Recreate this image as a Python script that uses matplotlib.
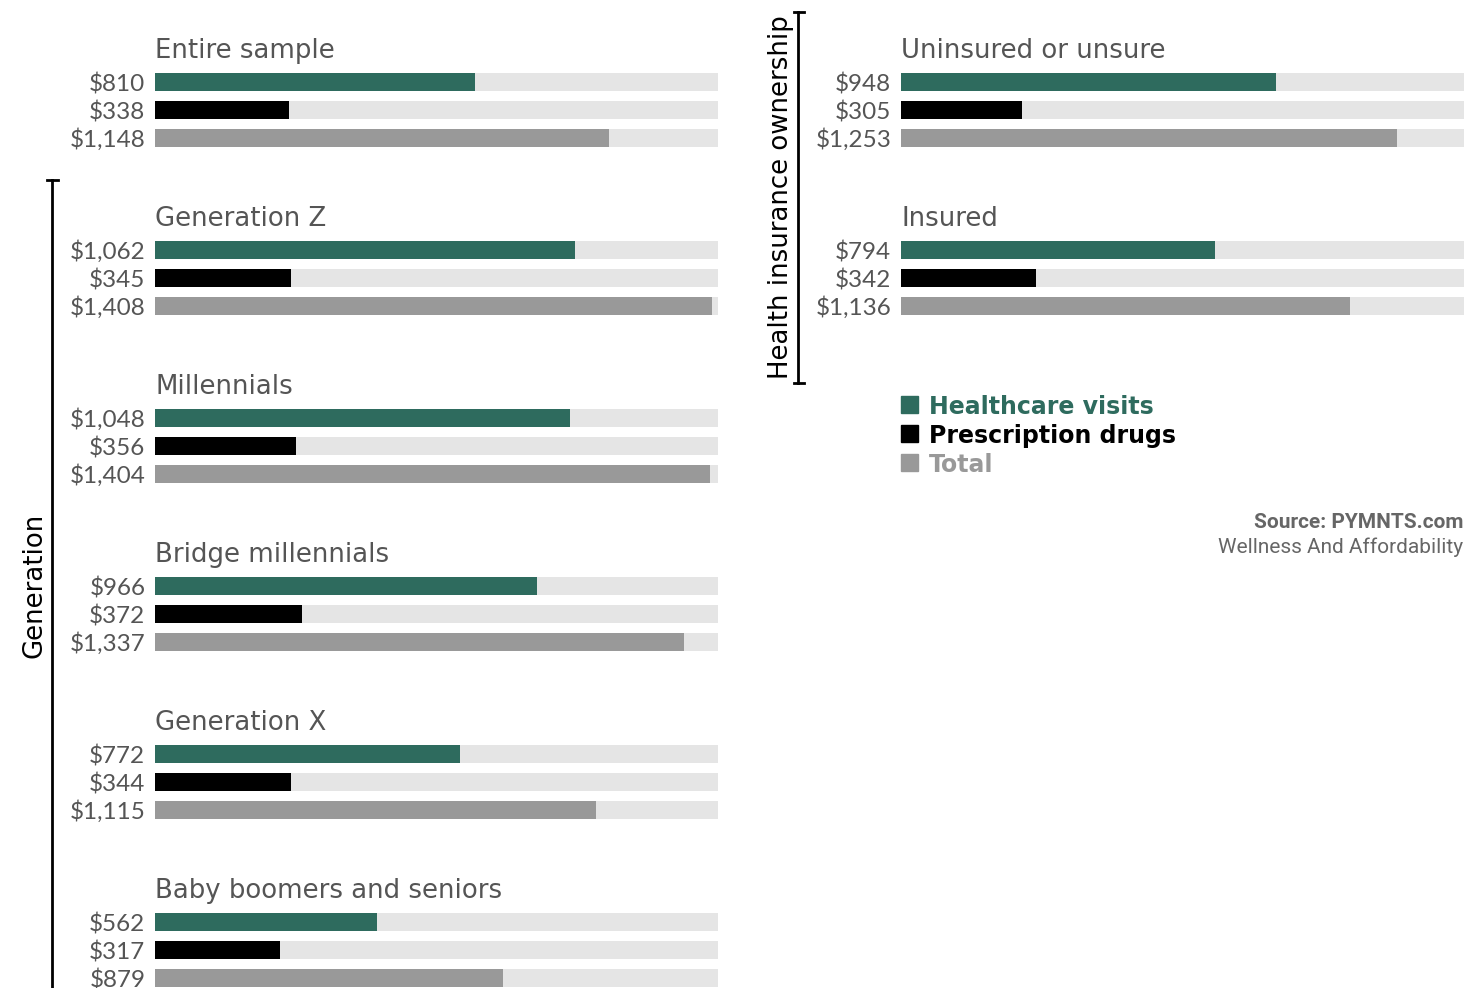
import matplotlib
matplotlib.use("Agg")
import matplotlib.pyplot as plt
from matplotlib.patches import Rectangle

# ------------------------
# Data
# ------------------------

gen_groups = ["Entire sample", "Generation Z", "Millennials", "Bridge millennials",
              "Generation X", "Baby boomers and seniors"]
gen_visits = [810, 1062, 1048, 966, 772, 562]
gen_drugs = [338, 345, 356, 372, 344, 317]
gen_total = [1148, 1408, 1404, 1337, 1115, 879]

ins_groups = ["Uninsured or unsure", "Insured"]
ins_visits = [948, 794]
ins_drugs = [305, 342]
ins_total = [1253, 1136]

series_names = ["Healthcare visits", "Prescription drugs", "Total"]

# ------------------------
# Style
# ------------------------

GREEN = "#2e6b5e"
BLACK = "#000000"
GRAY = "#999999"
TRACK = "#e5e5e5"
TEXT = "#555555"
colors = [GREEN, BLACK, GRAY]

W, H = 1483, 988
XMAX = 1423          # scale of the background track
GROUP_STEP = 168     # px between groups
ROW_STEP = 28        # px between bars
FIRST_TITLE = 51
FIRST_BAR = 82
BAR_H = 18

WIDE = ["DejaVu Sans"]
plt.rcParams["font.family"] = ["Lato", "DejaVu Sans"]

fig = plt.figure(figsize=(W / 100, H / 100), dpi=100)


def draw_panel(left_px, groups, visits, drugs, total):
    ax = fig.add_axes([left_px / W, 0, 563 / W, 1])
    ax.set_xlim(0, XMAX)
    ax.set_ylim(H, 0)
    ax.axis("off")
    for g, name in enumerate(groups):
        y0 = FIRST_TITLE + g * GROUP_STEP
        ax.text(0, y0, name, ha="left", va="center", fontsize=18.7,
                color=TEXT, family=WIDE)
        vals = [visits[g], drugs[g], total[g]]
        for k, v in enumerate(vals):
            y = FIRST_BAR + g * GROUP_STEP + k * ROW_STEP
            ax.barh(y, XMAX, height=BAR_H, left=0, color=TRACK)
            ax.barh(y, v, height=BAR_H, left=0, color=colors[k])
            ax.annotate(f"${v:,}", xy=(0, y), xytext=(-7, 0),
                        textcoords="offset points", ha="right",
                        va="center_baseline", fontsize=17.5, color=TEXT)
    return ax


draw_panel(155, gen_groups, gen_visits, gen_drugs, gen_total)
draw_panel(901, ins_groups, ins_visits, ins_drugs, ins_total)

# ------------------------
# Brackets, legend, source
# ------------------------

over = fig.add_axes([0, 0, 1, 1])
over.set_xlim(0, W)
over.set_ylim(H, 0)
over.axis("off")
over.patch.set_alpha(0)

# Generation bracket
over.plot([52, 52], [180, H + 5], color="black", lw=2)
over.plot([47, 58], [180, 180], color="black", lw=2)
over.text(35, 585, "Generation", rotation=90, ha="center", va="center",
          fontsize=18.7, color="black", family=WIDE)

# Health insurance bracket
over.plot([798, 798], [12, 383], color="black", lw=2)
over.plot([794, 804], [12, 12], color="black", lw=2)
over.plot([794, 804], [383, 383], color="black", lw=2)
over.text(781, 197, "Health insurance ownership", rotation=90, ha="center",
          va="center", fontsize=18.7, color="black", family=WIDE)

# Legend
for i, (name, c) in enumerate(zip(series_names, colors)):
    y = 404 + i * 29
    over.add_patch(Rectangle((901, y - 8.5), 17, 17, color=c))
    over.text(929, y, name, ha="left", va="center_baseline", fontsize=17,
              fontweight="bold", color=c, family=WIDE)

# Source
over.text(1463, 522, "Source: PYMNTS.com", ha="right", va="center",
          fontsize=15, fontweight="bold", color="#666666",
          family=["Roboto", "DejaVu Sans"])
over.text(1463, 547, "Wellness And Affordability", ha="right", va="center",
          fontsize=15, color="#666666", family=["Roboto", "DejaVu Sans"])

fig.savefig("out.png", dpi=100)
